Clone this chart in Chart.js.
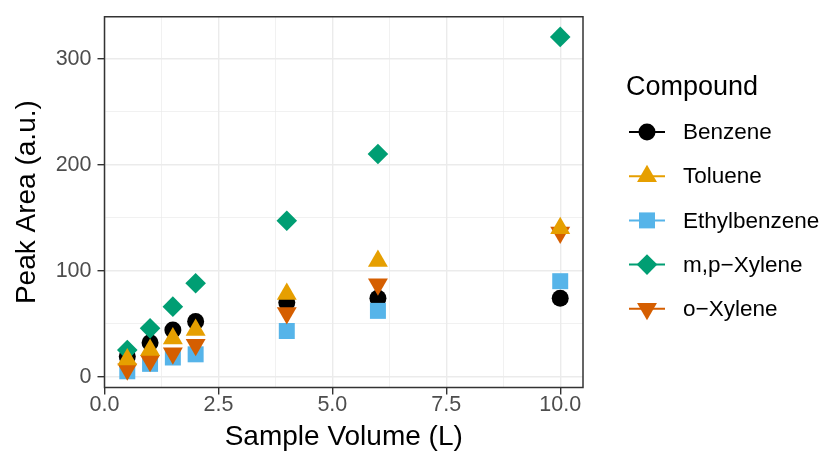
<!DOCTYPE html>
<html>
<head>
<meta charset="utf-8">
<script src="https://cdn.jsdelivr.net/npm/chart.js@4"></script>
<style>
  html, body { margin: 0; padding: 0; background: #ffffff; }
  canvas { display: block; }
</style>
</head>
<body>
<canvas id="peakChart" width="823" height="452"></canvas>
<script>
// data
const volumes = [0.5, 1, 1.5, 2, 4, 6, 10];
const benzene = [19, 32, 44, 52, 70, 74, 74];
const toluene = [16, 25, 36, 44, 78, 109, 140];
const ethylbenzene = [5, 12, 18, 21, 43, 62, 90];
const mpXylene = [25, 45.5, 66, 88, 147, 210, 320.5];
const oXylene = [7, 15, 22, 30, 60, 87, 136];

const compoundNames = ['Benzene', 'Toluene', 'Ethylbenzene', 'm,p\u2212Xylene', 'o\u2212Xylene'];
const xTickValues = [0, 1.25, 2.5, 3.75, 5, 6.25, 7.5, 8.75, 10];
const xTickLabels = ['0.0', '', '2.5', '', '5.0', '', '7.5', '', '10.0'];
const yTickValues = [0, 50, 100, 150, 200, 250, 300];
const yTickLabels = ['0', '', '100', '', '200', '', '300'];

const FONT = '"Liberation Sans", Arial, Helvetica, sans-serif';

// legend order; `order` controls which series is painted on top (1 = top)
const series = [
  { label: compoundNames[0], values: benzene, color: '#000000', shape: 'circle', radius: 8.5, rotation: 0, order: 5 },
  { label: compoundNames[1], values: toluene, color: '#E69F00', shape: 'triangle', radius: 11.5, rotation: 0, order: 1 },
  { label: compoundNames[2], values: ethylbenzene, color: '#56B4E9', shape: 'rect', radius: 11.3, rotation: 0, order: 4 },
  { label: compoundNames[3], values: mpXylene, color: '#009E73', shape: 'rectRot', radius: 10.3, rotation: 0, order: 3 },
  { label: compoundNames[4], values: oXylene, color: '#D55E00', shape: 'triangle', radius: 11.5, rotation: 180, order: 2 }
];

// same geometry Chart.js uses for its point styles, for the legend keys
function drawMark(ctx, s, x, y) {
  const r = s.radius;
  ctx.beginPath();
  if (s.shape === 'circle') {
    ctx.arc(x, y, r, 0, Math.PI * 2);
  } else if (s.shape === 'triangle') {
    const rad = s.rotation * Math.PI / 180;
    ctx.moveTo(x + Math.sin(rad) * r, y - Math.cos(rad) * r);
    ctx.lineTo(x + Math.sin(rad + 2 * Math.PI / 3) * r, y - Math.cos(rad + 2 * Math.PI / 3) * r);
    ctx.lineTo(x + Math.sin(rad + 4 * Math.PI / 3) * r, y - Math.cos(rad + 4 * Math.PI / 3) * r);
  } else if (s.shape === 'rect') {
    const h = Math.SQRT1_2 * r;
    ctx.rect(x - h, y - h, 2 * h, 2 * h);
  } else if (s.shape === 'rectRot') {
    ctx.moveTo(x - r, y);
    ctx.lineTo(x, y - r);
    ctx.lineTo(x + r, y);
    ctx.lineTo(x, y + r);
  }
  ctx.closePath();
  ctx.fillStyle = s.color;
  ctx.fill();
}

const panelAndLegend = {
  id: 'panelAndLegend',
  afterDraw(chart) {
    const ctx = chart.ctx;
    const a = chart.chartArea;
    ctx.save();
    ctx.strokeStyle = '#333333';
    ctx.lineWidth = 1.5;
    ctx.strokeRect(a.left, a.top, a.right - a.left, a.bottom - a.top);

    ctx.fillStyle = '#000000';
    ctx.textAlign = 'left';
    ctx.textBaseline = 'alphabetic';
    ctx.font = '27px ' + FONT;
    ctx.fillText('Compound', 626, 95);

    ctx.font = '22.5px ' + FONT;
    ctx.textBaseline = 'middle';
    series.forEach((s, i) => {
      const y = 132 + i * 44.2;
      ctx.strokeStyle = s.color;
      ctx.lineWidth = 2;
      ctx.beginPath();
      ctx.moveTo(629, y);
      ctx.lineTo(665, y);
      ctx.stroke();
      drawMark(ctx, s, 647, y);
      ctx.fillStyle = '#000000';
      ctx.fillText(s.label, 683, y + 1);
    });
    ctx.restore();
  }
};

const isMajor = (values, labels, v) => labels[values.indexOf(v)] !== '';

new Chart(document.getElementById('peakChart'), {
  type: 'scatter',
  data: {
    datasets: series.map(s => ({
      label: s.label,
      data: volumes.map((v, i) => ({ x: v, y: s.values[i] })),
      backgroundColor: s.color,
      borderWidth: 0,
      pointStyle: s.shape,
      pointRadius: s.radius,
      pointHoverRadius: s.radius,
      pointRotation: s.rotation,
      order: s.order,
      clip: false
    }))
  },
  options: {
    responsive: false,
    animation: false,
    layout: { padding: { left: 0, right: 240, top: 15.5, bottom: 0 } },
    plugins: { legend: { display: false }, tooltip: { enabled: false } },
    scales: {
      x: {
        type: 'linear',
        min: 0,
        max: 10.5,
        afterBuildTicks: scale => { scale.ticks = xTickValues.map(v => ({ value: v })); },
        afterFit: scale => { scale.height = 64.5; },
        border: { display: false },
        grid: {
          color: '#EBEBEB',
          lineWidth: c => isMajor(xTickValues, xTickLabels, c.tick.value) ? 1.4 : 0.7,
          tickColor: c => isMajor(xTickValues, xTickLabels, c.tick.value) ? '#333333' : 'rgba(0,0,0,0)',
          tickWidth: 1.4,
          tickLength: 7
        },
        ticks: {
          autoSkip: false,
          maxRotation: 0,
          minRotation: 0,
          padding: 0,
          color: '#4D4D4D',
          font: { family: FONT, size: 21.5, lineHeight: 1 },
          callback: v => xTickLabels[xTickValues.indexOf(v)]
        },
        title: {
          display: true,
          text: 'Sample Volume (L)',
          color: '#000000',
          font: { family: FONT, size: 28, lineHeight: 1 },
          padding: { top: 0, bottom: 0.5 }
        }
      },
      y: {
        type: 'linear',
        min: -10.3,
        max: 339.5,
        afterBuildTicks: scale => { scale.ticks = yTickValues.map(v => ({ value: v })); },
        afterFit: scale => { scale.width = 104.5; },
        border: { display: false },
        grid: {
          color: '#EBEBEB',
          lineWidth: c => isMajor(yTickValues, yTickLabels, c.tick.value) ? 1.4 : 0.7,
          tickColor: c => isMajor(yTickValues, yTickLabels, c.tick.value) ? '#333333' : 'rgba(0,0,0,0)',
          tickWidth: 1.4,
          tickLength: 7
        },
        ticks: {
          autoSkip: false,
          padding: 6,
          color: '#4D4D4D',
          font: { family: FONT, size: 21.5, lineHeight: 1 },
          callback: v => yTickLabels[yTickValues.indexOf(v)]
        },
        title: {
          display: true,
          text: 'Peak Area (a.u.)',
          color: '#000000',
          font: { family: FONT, size: 28, lineHeight: 1 },
          padding: { top: 13.5, bottom: 0 }
        }
      }
    }
  },
  plugins: [panelAndLegend]
});
</script>
</body>
</html>
